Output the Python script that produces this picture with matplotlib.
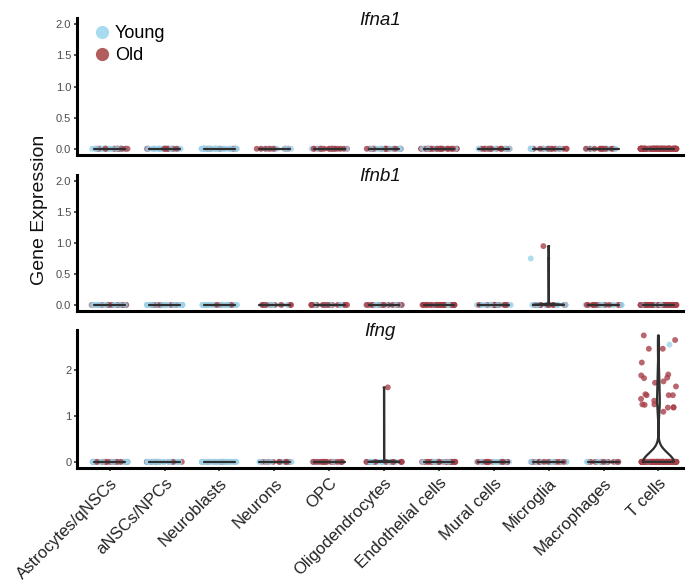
import numpy as np
import matplotlib.pyplot as plt
from matplotlib.lines import Line2D

plt.rcParams['font.family'] = ['Liberation Sans', 'DejaVu Sans']

# cell types on the x axis
categories = ['Astrocytes/qNSCs', 'aNSCs/NPCs', 'Neuroblasts', 'Neurons', 'OPC',
              'Oligodendrocytes', 'Endothelial cells', 'Mural cells', 'Microglia',
              'Macrophages', 'T cells']
genes = ['Ifna1', 'Ifnb1', 'Ifng']

# number of cells with zero expression per cell type (same cells in every panel)
n_young_zero = [30, 40, 50, 10, 8, 20, 8, 15, 20, 12, 6]
n_old_zero = [18, 10, 6, 10, 20, 15, 30, 15, 12, 12, 120]

# non-zero expression values
ifnb1_microglia_young = [0.75]
ifnb1_microglia_old = [0.95]
ifng_oligo_old = [1.62]
ifng_tcells_young = [2.55]
ifng_tcells_old = [2.75, 2.65, 2.46, 2.46, 2.16, 1.90, 1.88, 1.83, 1.82, 1.75, 1.72,
                   1.64, 1.47, 1.45, 1.45, 1.45, 1.37, 1.33, 1.25, 1.25, 1.24,
                   1.19, 1.18, 1.18, 1.09]

nonzero = {
    'Ifna1': {},
    'Ifnb1': {'Microglia': (ifnb1_microglia_young, ifnb1_microglia_old)},
    'Ifng': {'Oligodendrocytes': ([], ifng_oligo_old),
             'T cells': (ifng_tcells_young, ifng_tcells_old)},
}

col_young = '#9fd3ea'
col_old = '#a8404a'
col_violin = '#2f2f2f'
half_w = 0.28
rng = np.random.default_rng(5)


def draw_violin(ax, pos, vals, bw):
    vals = np.asarray(vals, dtype=float)
    lo, hi = vals.min(), vals.max()
    if hi - lo < 1e-9:
        ax.plot([pos - half_w, pos + half_w], [lo, lo], color=col_violin, lw=1.6,
                solid_capstyle='round', zorder=4)
        return
    ys = np.linspace(lo, hi, 400)
    dens = np.exp(-(ys[:, None] - vals[None, :]) ** 2 / (2 * bw ** 2)).sum(axis=1)
    w = dens / dens.max() * half_w
    xs = np.r_[pos - w, (pos + w)[::-1], pos - w[0]]
    yy = np.r_[ys, ys[::-1], ys[0]]
    ax.plot(xs, yy, color=col_violin, lw=1.6, solid_joinstyle='round', zorder=4)


fig = plt.figure(figsize=(6.86, 5.87), dpi=100)
boxes = [[0.112, 0.736, 0.883, 0.233],
         [0.112, 0.470, 0.883, 0.232],
         [0.112, 0.203, 0.883, 0.235]]
ylims = [(-0.1, 2.1), (-0.1, 2.1), (-0.13, 2.87)]

for k, gene in enumerate(genes):
    ax = fig.add_axes(boxes[k])
    for i, cat in enumerate(categories):
        young_nz, old_nz = nonzero[gene].get(cat, ([], []))
        young = np.r_[np.zeros(n_young_zero[i]), young_nz]
        old = np.r_[np.zeros(n_old_zero[i]), old_nz]
        vals = np.r_[young, old]
        cols = [col_young] * len(young) + [col_old] * len(old)
        order = rng.permutation(len(vals))  # mixed drawing order, like ggplot jitter
        xj = i + rng.uniform(-0.33, 0.33, len(vals))
        ax.scatter(xj[order], vals[order], s=18, c=[cols[j] for j in order],
                   alpha=0.8, lw=0, zorder=2)
        # wide kernel only where many cells are expressing (T cells)
        bw = 0.19 if len(old_nz) + len(young_nz) > 5 else 0.006
        draw_violin(ax, i, vals, bw)

    ax.set_xlim(-0.6, 10.44)
    ax.set_ylim(*ylims[k])
    for s in ['top', 'right']:
        ax.spines[s].set_visible(False)
    for s in ['left', 'bottom']:
        ax.spines[s].set_linewidth(2.2)
    ax.tick_params(axis='y', length=2.5, width=1.2, colors='#333333', labelsize=8,
                   labelcolor='#4d4d4d', pad=1.5)
    if k < 2:
        ax.set_yticks([0, 0.5, 1.0, 1.5, 2.0])
        ax.set_yticklabels(['0.0', '0.5', '1.0', '1.5', '2.0'])
        ax.set_xticks([])
    else:
        ax.set_yticks([0, 1, 2])
        ax.set_xticks(range(len(categories)))
        ax.set_xticklabels(categories, rotation=45, ha='right', va='top',
                           rotation_mode='anchor', fontsize=12, color='#222222')
        ax.tick_params(axis='x', length=2.5, width=1.2, colors='#333333',
                       labelcolor='#222222', pad=3)
    ax.text(0.5, 0.985, gene, transform=ax.transAxes, ha='center', va='center',
            fontsize=13.5, style='italic', color='#111111')

    if k == 0:
        handles = [Line2D([], [], marker='o', ls='', color='#a9dbef', markersize=8.5),
                   Line2D([], [], marker='o', ls='', color='#b25c5e', markersize=8.5)]
        ax.legend(handles, ['Young', 'Old'], loc='upper left', frameon=False,
                  bbox_to_anchor=(0.005, 1.04), fontsize=13, handlelength=1.0,
                  handletextpad=0.25, labelspacing=0.25, borderaxespad=0.3)

fig.text(0.058, 0.642, 'Gene Expression', rotation=90, ha='center', va='center',
         fontsize=14, color='#111111')

fig.savefig('out.png', dpi=100)
